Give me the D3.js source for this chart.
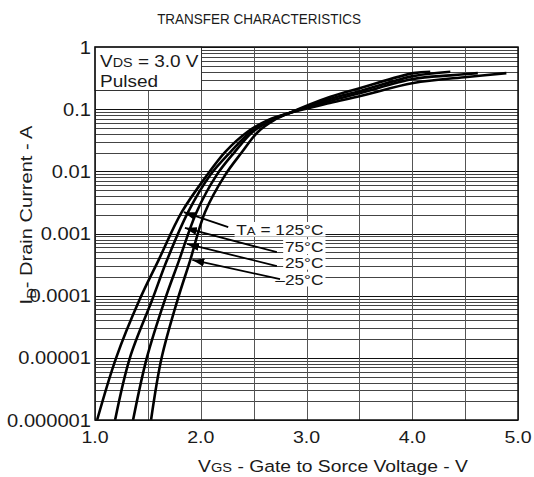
<!DOCTYPE html>
<html><head><meta charset="utf-8">
<script src="https://cdn.jsdelivr.net/npm/d3@7"></script>
<style>
body{margin:0;background:#fff}
text{font-family:"Liberation Sans",Arial,Helvetica,sans-serif;fill:#1a1a1a}
</style>
</head><body>
<svg id="c" width="534" height="477"></svg>
<script>
// ---- data ----
const vgs125 = [1.02, 1.20, 1.42, 1.60, 1.82, 2.06, 2.23, 2.44, 2.64, 2.84, 3.22, 3.51, 4.01, 4.52, 4.89];
const id125  = [1e-6, 1e-5, 8.5e-5, 3.7e-4, 2.2e-3, 8.7e-3, 0.0204, 0.043, 0.067, 0.087, 0.126, 0.163, 0.263, 0.33, 0.38];
const vgs75  = [1.19, 1.33, 1.54, 1.68, 1.88, 2.09, 2.28, 2.47, 2.66, 2.84, 3.22, 3.51, 4.01, 4.36, 4.62];
const id75   = [1e-6, 1e-5, 8.5e-5, 3.7e-4, 2.2e-3, 8.7e-3, 0.0204, 0.043, 0.067, 0.087, 0.135, 0.182, 0.306, 0.35, 0.38];
const vgs25  = [1.36, 1.49, 1.66, 1.795, 1.96, 2.15, 2.32, 2.49, 2.67, 2.84, 3.22, 3.51, 4.01, 4.36];
const id25   = [1e-6, 1e-5, 8.5e-5, 3.7e-4, 2.2e-3, 8.7e-3, 0.0204, 0.043, 0.067, 0.087, 0.146, 0.196, 0.34, 0.40];
const vgsM25 = [1.53, 1.63, 1.78, 1.90, 2.04, 2.23, 2.39, 2.54, 2.69, 2.84, 3.22, 3.51, 4.01, 4.17];
const idM25  = [1e-6, 1e-5, 8.5e-5, 3.7e-4, 2.2e-3, 8.7e-3, 0.0204, 0.043, 0.066, 0.087, 0.157, 0.219, 0.38, 0.40];

const xTickValues = [1, 2, 3, 4, 5];
const xTickLabels = ["1.0", "2.0", "3.0", "4.0", "5.0"];
const yTickValues = [1, 0.1, 0.01, 0.001, 0.0001, 0.00001, 0.000001];
const yTickLabels = ["1", "0.1", "0.01", "0.001", "0.0001", "0.00001", "0.000001"];

// annotation labels and arrows (data units: tail -> tip)
const annLabels = ["125°C", "75°C", "25°C", "–25°C"];
const annLabelV = 3.16;
const annLabelI = [9.5e-4, 5.0e-4, 2.8e-4, 1.5e-4];
const arrowTailV = [2.26, 2.72, 2.72, 2.75];
const arrowTailI = [1.27e-3, 5.0e-4, 3.0e-4, 1.85e-4];
const arrowTipV  = [1.84, 1.85, 1.87, 1.92];
const arrowTipI  = [2.2e-3, 1.23e-3, 6.8e-4, 3.75e-4];

const series = [
  {v: vgs125, i: id125},
  {v: vgs75, i: id75},
  {v: vgs25, i: id25},
  {v: vgsM25, i: idM25}
];

// ---- layout ----
const svg = d3.select('#c');
const x = d3.scaleLinear().domain([1, 5]).range([95, 518]);
const y = d3.scaleLog().domain([1e-6, 1]).range([420, 47]);
const K = 1.15; // horizontal stretch of lettering

function stext(parent, px, py, size, anchor, k, rot) {
  const g = parent.append('g')
    .attr('transform', `translate(${px},${py})` + (rot ? ` rotate(${rot})` : '') + ` scale(${k},1)`);
  return g.append('text').attr('text-anchor', anchor).style('font-size', size + 'px');
}

// grid
const gridY = [];
for (let e = -6; e < 0; e++) for (let m = 1; m < 10; m++) gridY.push(m * Math.pow(10, e));
gridY.push(1);
const grid = svg.append('g');
grid.selectAll('line.h').data(gridY).join('line').attr('class', 'h')
  .attr('x1', x(1)).attr('x2', x(5))
  .attr('y1', d => Math.round(y(d)) + 0.5).attr('y2', d => Math.round(y(d)) + 0.5)
  .attr('stroke', d => (Math.abs(Math.log10(d) - Math.round(Math.log10(d))) < 1e-9) ? '#111' : '#444')
  .attr('stroke-width', 1);
grid.selectAll('line.v').data(d3.range(1, 5.01, 0.5)).join('line').attr('class', 'v')
  .attr('y1', y(1)).attr('y2', y(1e-6))
  .attr('x1', d => Math.round(x(d)) + 0.5).attr('x2', d => Math.round(x(d)) + 0.5)
  .attr('stroke', '#555').attr('stroke-width', 1);

// legend box (top-left)
svg.append('rect')
  .attr('x', x(1)).attr('y', y(1))
  .attr('width', Math.round(x(2)) + 0.5 - x(1)).attr('height', Math.round(y(0.2)) + 0.5 - y(1))
  .attr('fill', '#fff').attr('stroke', '#333').attr('stroke-width', 1);
const l1 = stext(svg, x(1) + 5, y(1) + 20, 16.5, 'start', K);
l1.append('tspan').text('V');
l1.append('tspan').style('font-size', '12.5px').text('DS');
l1.append('tspan').text(' = 3.0 V');
stext(svg, x(1) + 5, y(1) + 40, 16.5, 'start', K).text('Pulsed');

// curves
const line = d3.line().x(d => x(d[0])).y(d => y(d[1])).curve(d3.curveCatmullRom.alpha(0.5));
svg.append('g').selectAll('path').data(series).join('path')
  .attr('d', s => line(s.v.map((v, j) => [v, s.i[j]])))
  .attr('fill', 'none').attr('stroke', '#000').attr('stroke-width', 2.6)
  .attr('stroke-linejoin', 'round');

// frame
svg.append('rect').attr('x', x(1)).attr('y', y(1))
  .attr('width', x(5) - x(1)).attr('height', y(1e-6) - y(1))
  .attr('fill', 'none').attr('stroke', '#111').attr('stroke-width', 1.5);

// annotation labels with white backing
annLabels.forEach((lab, j) => {
  const g = svg.append('g')
    .attr('transform', `translate(${x(annLabelV)},${y(annLabelI[j])}) scale(${K},1)`);
  const bg = g.append('rect').attr('fill', '#fff');
  const t = g.append('text').attr('text-anchor', 'end').style('font-size', '15px');
  if (j === 0) {
    t.append('tspan').text('T');
    t.append('tspan').style('font-size', '11.5px').text('A');
    t.append('tspan').text(' = ' + lab);
  } else {
    t.text(lab);
  }
  const b = t.node().getBBox();
  bg.attr('x', b.x - 1.5).attr('y', b.y + 1).attr('width', b.width + 3).attr('height', b.height - 2);
});

// arrows
const defs = svg.append('defs');
defs.append('marker').attr('id', 'ah').attr('markerUnits', 'userSpaceOnUse')
  .attr('viewBox', '0 0 12 8').attr('refX', 12).attr('refY', 4)
  .attr('markerWidth', 12).attr('markerHeight', 8).attr('orient', 'auto')
  .append('path').attr('d', 'M0,0 L12,4 L0,8 Z').attr('fill', '#000');
svg.append('g').selectAll('line').data(annLabels).join('line')
  .attr('x1', (d, j) => x(arrowTailV[j])).attr('y1', (d, j) => y(arrowTailI[j]))
  .attr('x2', (d, j) => x(arrowTipV[j])).attr('y2', (d, j) => y(arrowTipI[j]))
  .attr('stroke', '#000').attr('stroke-width', 1.8).attr('marker-end', 'url(#ah)');

// tick labels
xTickValues.forEach((v, j) => {
  stext(svg, x(v), 443, 17, 'middle', K).text(xTickLabels[j]);
});
yTickValues.forEach((v, j) => {
  stext(svg, 91, y(v) + 6.5, 17.5, 'end', K).text(yTickLabels[j]);
});

// title
stext(svg, 259, 24, 15, 'middle', 0.9).text('TRANSFER CHARACTERISTICS');

// x axis title
const xt = stext(svg, 333, 472, 16.5, 'middle', 1.17);
xt.append('tspan').text('V');
xt.append('tspan').style('font-size', '12.5px').text('GS');
xt.append('tspan').text(' - Gate to Sorce Voltage - V');

// y axis title
const yt = stext(svg, 32, 215, 17, 'middle', 1.18, -90);
yt.append('tspan').text('I');
yt.append('tspan').style('font-size', '12.5px').attr('dy', 4).text('D');
yt.append('tspan').attr('dy', -4).text('- Drain Current - A');
</script>
</body></html>
